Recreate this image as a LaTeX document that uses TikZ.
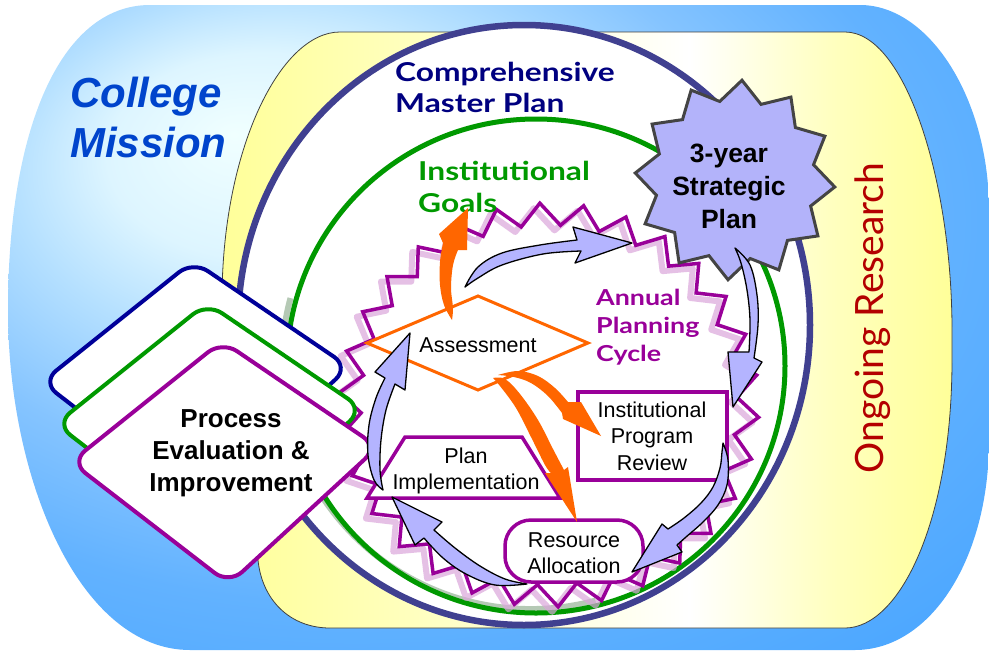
\documentclass[tikz,border=0pt]{standalone}
\usepackage{fontspec}
\setmainfont{Liberation Sans}
\newfontfamily\gillf{Lato}[FakeStretch=1.22]
\newfontfamily\gillr{Lato}
\usetikzlibrary{calc}
\definecolor{navyring}{HTML}{404090}
\definecolor{greenring}{HTML}{009900}
\definecolor{purp}{HTML}{990099}
\definecolor{orng}{HTML}{FF6600}
\definecolor{lav}{HTML}{B4B4FF}
\definecolor{starfill}{HTML}{B3B3FA}
\definecolor{stargray}{HTML}{444444}
\definecolor{yel}{HTML}{FFFF99}
\definecolor{yel2}{HTML}{FFFFBE}
\definecolor{missionblue}{HTML}{0044CC}
\definecolor{cmpnavy}{HTML}{000080}
\definecolor{goalgreen}{HTML}{009900}
\definecolor{resred}{HTML}{B30000}
\definecolor{dnavy}{HTML}{000099}
\definecolor{bsh0}{HTML}{F0FFFF}
\definecolor{bsh1}{HTML}{DDF5FF}
\definecolor{bsh2}{HTML}{B5E0FF}
\definecolor{bsh3}{HTML}{85C4FF}
\definecolor{bsh4}{HTML}{62B2FF}
\definecolor{bsh5}{HTML}{4AA6FF}
\definecolor{gshadow}{HTML}{9DB89D}
\pgfdeclareradialshading{bluesh}{\pgfpoint{-13.5bp}{15bp}}{color(0bp)=(bsh0); color(8bp)=(bsh1); color(14bp)=(bsh2); color(22bp)=(bsh3); color(30bp)=(bsh4); color(42bp)=(bsh5); color(70bp)=(bsh5)}
\pgfdeclarehorizontalshading{yelsh}{100bp}{color(0bp)=(yel); color(25bp)=(yel); color(38bp)=(yel2); color(57bp)=(white); color(67bp)=(yel2); color(75bp)=(yel); color(100bp)=(yel)}
\begin{document}
\begin{tikzpicture}[x=1pt,y=-1pt,
  lavarrow/.style={fill=lav, draw=black, line width=1.3pt, line join=round},
  orarrow/.style={fill=orng},
  smallt/.style={font=\fontsize{21.5}{26.5}\selectfont, align=center, inner sep=0pt},
  purpline/.style={draw=purp, line width=3.5pt},
  pediam/.style={fill=white, line width=4pt, rounded corners=18pt},
  bigsans/.style={font=\bfseries\fontsize{26}{32}\selectfont, align=center, inner sep=0pt}]
\useasboundingbox (0,0) rectangle (989,654);

% outer blue region
\shade[shading=bluesh] (150,5) -- (860,5) .. controls (930,5) and (989,100) .. (989,210) -- (989,440)
  .. controls (989,560) and (930,650) .. (855,650) -- (190,650)
  .. controls (80,650) and (8,480) .. (8,310) .. controls (8,130) and (60,5) .. (150,5) -- cycle;

% yellow region
\shadedraw[shading=yelsh, draw=black!75, line width=0.8pt] (340,32) -- (845,32) .. controls (905,32) and (952,180) .. (952,330)
  -- (952,360) .. controls (952,520) and (900,628) .. (845,628) -- (330,628)
  .. controls (290,628) and (262,600) .. (258,560) .. controls (240,480) and (222,400) .. (222,300)
  .. controls (222,150) and (280,32) .. (340,32) -- cycle;

% Comprehensive master plan ring
\filldraw[fill=white, draw=navyring, line width=6.5pt] (524,325) ellipse [x radius=286, y radius=300];

% Institutional goals ring
\fill[white] (536,366) ellipse [x radius=249, y radius=247];
\draw[gshadow, line width=6pt, opacity=.75] (531,362) ++(75:249 and 247) arc[start angle=75, end angle=195, x radius=249, y radius=247];
\draw[greenring, line width=5pt] (536,366) ellipse [x radius=249, y radius=247];

% annual planning cycle star (shadow then line)
\draw[purp!35, line width=6pt, line join=round, opacity=.7] plot[variable=\k, samples at={0,...,59}]
  ({543+ifthenelse(mod(\k,2)==0,210,188)*cos(-92.5+6*\k)}, {410+ifthenelse(mod(\k,2)==0,202,180)*sin(-92.5+6*\k)}) -- cycle;
\draw[purpline, line join=miter] plot[variable=\k, samples at={0,...,59}]
  ({549+ifthenelse(mod(\k,2)==0,210,188)*cos(-92.5+6*\k)}, {405+ifthenelse(mod(\k,2)==0,202,180)*sin(-92.5+6*\k)}) -- cycle;

% 3-year strategic plan star
\filldraw[fill=starfill, draw=stargray, line width=3pt, line join=miter] plot[variable=\k, samples at={0,...,23}]
  ({735+ifthenelse(mod(\k,2)==0,100,80)*cos(-86+15*\k)}, {180+ifthenelse(mod(\k,2)==0,100,80)*sin(-86+15*\k)}) -- cycle;
\node[font=\bfseries\fontsize{26.5}{33}\selectfont, align=center, inner sep=0pt] (strat) at (729,186) {3-year\\Strategic\\Plan};

% labels
\node[font=\gillf\bfseries\fontsize{26}{31}\selectfont, text=cmpnavy, align=left, anchor=west, inner sep=0pt] (cmp) at (395,87.5) {Comprehensive\\Master Plan};
\node[font=\gillf\bfseries\fontsize{26}{32}\selectfont, text=goalgreen, align=left, anchor=west, inner sep=0pt] (goals) at (418,186.5) {Institutional\\Goals};
\node[font=\gillf\bfseries\fontsize{22}{28}\selectfont, text=purp, align=left, anchor=west, inner sep=0pt] (apc) at (596,327) {Annual\\Planning\\Cycle};
\node[font=\bfseries\itshape\fontsize{42}{50}\selectfont, text=missionblue, align=left, anchor=west, inner sep=0pt] (mission) at (70,117) {College\\Mission};
\node[font=\gillr\fontsize{39}{44}\selectfont, text=resred, rotate=90, inner sep=0pt] (research) at (873,318) {Ongoing Research};

% process evaluation diamonds
\draw[pediam, draw=dnavy, shift={(-29,-80)}] (71,462) -- (222,341) -- (378,447) -- (229,584) -- cycle;
\draw[pediam, draw=greenring, shift={(-15,-38)}] (71,462) -- (222,341) -- (378,447) -- (229,584) -- cycle;
\draw[pediam, draw=purp] (71,462) -- (222,341) -- (378,447) -- (229,584) -- cycle;
\node[bigsans] (peval) at (231,453) {Process\\Evaluation \&\\Improvement};

% cycle steps
\draw[draw=orng, line width=3pt] (367,343) -- (478,296) -- (588,343) -- (478,390) -- cycle;
\node[smallt] (assess) at (478,345) {Assessment};
\filldraw[fill=white, purpline] (578,392) rectangle (727,480);
\node[smallt] (ipr) at (652,436) {Institutional\\Program\\Review};
\filldraw[fill=white, purpline] (367,498) -- (405,437) -- (522,437) -- (560,498) -- cycle;
\node[smallt] (plan) at (466,471) {Plan\\Implementation};
\filldraw[fill=white, purpline, rounded corners=26pt] (505,520) rectangle (643,582);
\node[smallt] (res) at (574,553) {Resource\\Allocation};

% lavender cycle arrows
\coordinate (l1t) at (465,287); \coordinate (l1h) at (632,243);
\filldraw[lavarrow] plot[smooth,tension=.6] coordinates {(l1t) (478,267) (502,253) (540,245) (577,240)} -- (573,227) -- (l1h) -- (575,263) -- plot[smooth,tension=.6] coordinates {(581,251) (543,254) (502,265) (478,278) (l1t)} -- cycle;
\coordinate (l2t) at (735,248); \coordinate (l2h) at (733,407);
\filldraw[lavarrow] plot[smooth,tension=.6] coordinates {(l2t) (741,263) (747,290) (750,320) (749,352)} -- (728,352) -- (l2h) -- (762,362) -- plot[smooth,tension=.6] coordinates {(754,358) (758,325) (757,295) (750,265) (l2t)} -- cycle;
\coordinate (l3t) at (723,443); \coordinate (l3h) at (632,572);
\filldraw[lavarrow] plot[smooth,tension=.6] coordinates {(l3t) (728,460) (727,485) (718,505) (703,522) (686,537) (677,545)} -- (682,552) -- (l3h) -- (662,524) -- plot[smooth,tension=.6] coordinates {(668,529) (684,518) (701,503) (713,487) (720,468) (722,452) (l3t)} -- cycle;
\coordinate (l4t) at (527,584); \coordinate (l4h) at (392,497);
\filldraw[lavarrow] plot[smooth,tension=.6] coordinates {(l4t) (505,579) (480,566) (455,548) (434,530)} -- (442,522) -- (l4h) -- (415,545) -- plot[smooth,tension=.6] coordinates {(424,538) (443,558) (466,574) (495,585) (l4t)} -- cycle;
\coordinate (l5t) at (383,490); \coordinate (l5h) at (410,333);
\filldraw[lavarrow] plot[smooth,tension=.6] coordinates {(l5t) (374,480) (368,455) (369,425) (376,398) (385,378)} -- (375,372) -- (l5h) -- (405,390) -- plot[smooth,tension=.6] coordinates {(395,384) (386,410) (381,440) (380,470) (l5t)} -- cycle;

% orange assessment arrows
\coordinate (o1t) at (452,320); \coordinate (o1h) at (468,208);
\fill[orarrow] plot[smooth,tension=.6] coordinates {(o1t) (444,305) (440,285) (440,262) (443,243)} -- (439,234) -- (o1h) -- (467,250) -- plot[smooth,tension=.6] coordinates {(458,250) (453,265) (451,288) (453,308) (o1t)} -- cycle;
\coordinate (o2t) at (498,375); \coordinate (o2h) at (601,436);
\fill[orarrow] plot[smooth,tension=.6] coordinates {(o2t) (518,371) (538,376) (555,388) (568,402)} -- (581,402) -- (o2h) -- (563,419) -- plot[smooth,tension=.6] coordinates {(562,413) (548,396) (531,383) (514,377) (o2t)} -- cycle;
\coordinate (o3t) at (493,378); \coordinate (o3h) at (577,522);
\fill[orarrow] plot[smooth,tension=.6] coordinates {(o3t) (500,386) (516,408) (531,437) (545,465) (551,473)} -- (545,473) -- (o3h) -- (568,467) -- plot[smooth,tension=.6] coordinates {(564,470) (553,449) (538,420) (520,394) (505,379) (o3t)} -- cycle;
\end{tikzpicture}
\end{document}
